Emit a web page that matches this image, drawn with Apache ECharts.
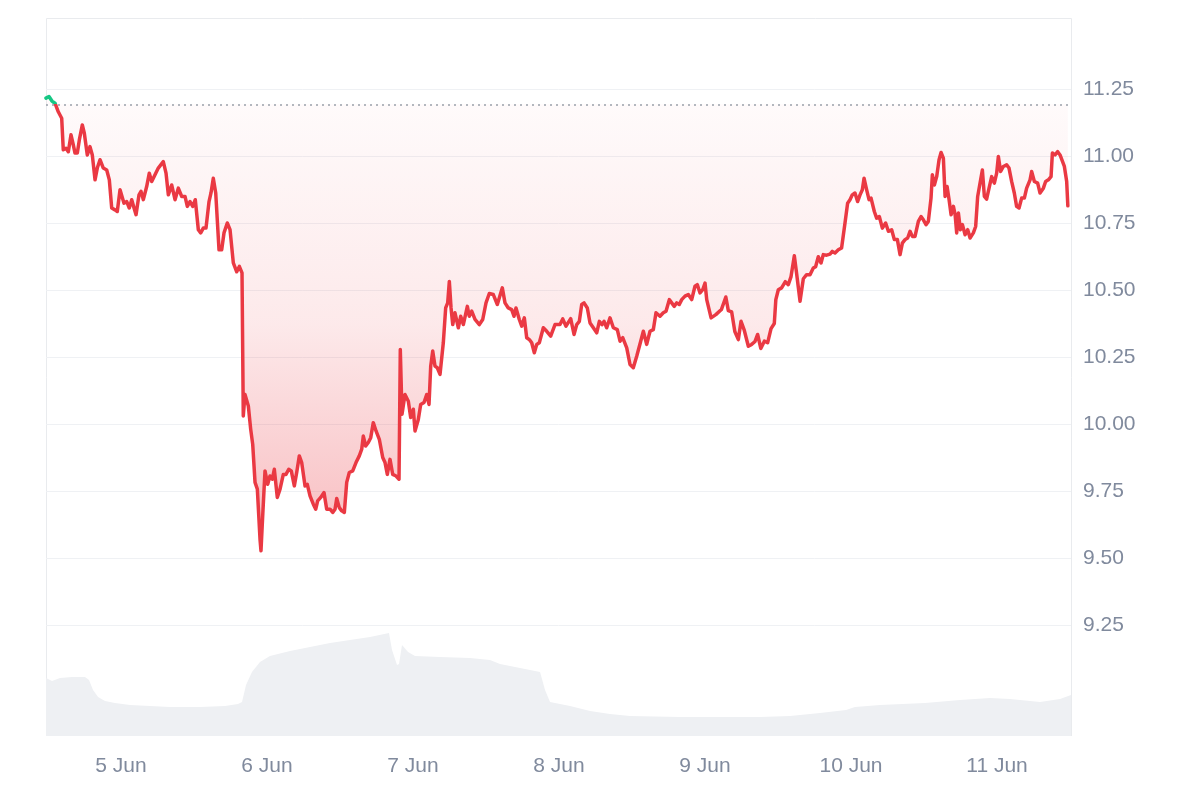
<!DOCTYPE html>
<html><head><meta charset="utf-8">
<script src="https://cdn.jsdelivr.net/npm/echarts@6/dist/echarts.min.js"></script>
<style>html,body{margin:0;padding:0;background:#fff}#c{width:1200px;height:800px}</style>
</head><body><div id="c"></div>
<script>
// hours since 4 Jun 00:00
const priceTimes = [11.67,12.16,12.65,13.15,13.69,14.25,14.51,14.96,15.34,15.78,
16.16,16.44,16.82,17.15,17.64,17.97,18.46,18.90,19.28,19.73,
20.10,20.55,21.09,21.65,22.08,22.47,23.01,23.39,23.84,24.12,
24.49,24.94,25.36,25.76,26.14,26.47,26.96,27.29,27.67,28.22,
28.65,29.05,29.59,30.13,30.95,31.40,31.78,32.33,32.88,33.42,
33.98,34.52,34.90,35.34,35.79,36.21,36.71,37.10,37.53,37.97,
38.47,38.79,39.17,39.57,40.11,40.55,40.93,41.47,41.92,42.46,
43.02,43.45,43.89,44.10,44.38,44.93,45.32,45.65,46.03,46.41,
46.85,47.01,47.29,47.67,48.11,48.49,48.87,49.20,49.69,50.14,
50.68,51.12,51.57,51.99,52.49,52.88,53.31,53.70,54.25,54.62,
55.07,55.61,56.01,56.33,56.83,57.37,57.81,58.36,58.80,59.18,
59.46,59.88,60.28,60.71,61.10,61.53,62.09,62.63,63.17,63.57,
63.83,64.22,64.65,65.05,65.47,65.92,66.46,67.02,67.40,67.78,
68.22,68.66,69.21,69.70,69.91,70.19,70.68,71.23,71.62,72.05,
72.33,72.87,73.26,73.81,74.25,74.63,74.91,75.24,75.61,75.99,
76.44,76.98,77.37,77.70,77.97,78.25,78.53,78.90,79.45,79.84,
80.27,80.93,81.25,81.65,82.19,82.90,83.46,84.00,84.54,85.20,
85.86,86.68,87.12,87.66,88.22,88.60,88.93,89.47,89.87,90.30,
90.69,91.12,91.51,91.94,92.33,92.76,93.42,93.98,94.63,95.34,
96.16,96.61,97.15,97.92,98.47,98.91,99.34,99.73,100.11,100.65,
101.10,101.64,102.20,102.63,103.07,103.40,103.84,104.38,104.93,105.58,
106.03,106.47,107.13,107.67,108.21,108.77,109.43,109.86,110.41,110.96,
111.50,111.94,112.60,113.14,113.59,114.13,114.52,114.95,115.35,115.77,
116.17,116.71,117.25,117.81,118.35,118.73,119.18,119.62,120.00,120.28,
121.00,121.78,122.69,123.42,123.83,124.38,124.90,125.48,125.92,126.46,
127.12,127.66,128.22,128.65,129.17,129.75,130.29,130.85,131.39,131.64,
132.05,132.59,133.20,133.69,134.14,134.68,135.06,135.62,136.16,136.70,
137.26,137.80,138.18,138.62,139.07,139.44,139.99,140.55,140.92,141.37,
141.91,142.45,143.01,143.44,143.83,144.21,144.65,145.08,145.48,145.86,
146.14,146.57,146.96,147.29,147.83,148.21,148.65,149.15,149.69,150.14,
150.68,151.12,151.62,152.06,152.44,152.88,153.31,153.70,154.08,154.52,
155.07,155.51,155.89,156.33,156.71,157.15,157.37,157.70,158.08,158.47,
158.80,159.18,159.46,159.79,160.12,160.45,160.83,161.11,161.37,161.65,
161.98,162.31,162.75,163.18,163.57,164.11,164.49,164.82,165.21,165.59,
165.92,166.29,166.69,167.12,167.56,167.94,168.22,168.59,169.04,169.58,
169.97,170.40,170.84,171.22,171.62,172.05,172.49,172.87,173.43,173.69,
174.14,174.68,175.07,175.62,175.99,176.44,176.88,177.10,177.54,177.97,
178.36,178.62,179.07,179.45,179.64];

const priceValues = [11.216,11.222,11.205,11.197,11.165,11.141,11.023,11.029,11.016,11.079,
11.041,11.011,11.011,11.060,11.116,11.085,11.004,11.035,11.004,10.911,
10.955,10.986,10.955,10.948,10.911,10.806,10.799,10.793,10.874,10.880,
10.824,10.830,10.806,10.837,10.806,10.781,10.855,10.868,10.837,10.886,
10.936,10.905,10.930,10.955,10.979,10.936,10.855,10.892,10.837,10.880,
10.849,10.849,10.812,10.830,10.812,10.837,10.725,10.713,10.731,10.731,
10.830,10.862,10.917,10.862,10.650,10.650,10.713,10.750,10.725,10.601,
10.568,10.588,10.564,10.030,10.110,10.067,9.980,9.924,9.782,9.757,
9.570,9.527,9.657,9.825,9.775,9.806,9.794,9.831,9.726,9.757,
9.812,9.812,9.831,9.825,9.769,9.819,9.881,9.856,9.769,9.775,
9.732,9.701,9.682,9.713,9.726,9.744,9.682,9.682,9.670,9.682,
9.722,9.688,9.676,9.670,9.782,9.819,9.825,9.856,9.881,9.906,
9.955,9.918,9.931,9.949,10.005,9.974,9.943,9.875,9.856,9.812,
9.868,9.812,9.806,9.794,10.278,10.036,10.110,10.085,10.024,10.055,
9.974,10.017,10.073,10.080,10.110,10.073,10.216,10.272,10.216,10.210,
10.185,10.303,10.433,10.452,10.532,10.433,10.371,10.415,10.359,10.402,
10.371,10.439,10.402,10.421,10.390,10.371,10.390,10.452,10.487,10.483,
10.446,10.508,10.452,10.433,10.427,10.402,10.433,10.390,10.365,10.396,
10.322,10.315,10.303,10.266,10.297,10.303,10.359,10.346,10.328,10.371,
10.371,10.392,10.365,10.393,10.334,10.371,10.383,10.446,10.452,10.433,
10.377,10.359,10.340,10.383,10.371,10.383,10.359,10.396,10.359,10.352,
10.309,10.322,10.284,10.222,10.210,10.253,10.309,10.346,10.297,10.346,
10.352,10.415,10.402,10.415,10.421,10.464,10.452,10.439,10.452,10.446,
10.464,10.477,10.483,10.464,10.514,10.520,10.489,10.501,10.526,10.464,
10.396,10.408,10.427,10.474,10.423,10.418,10.345,10.315,10.383,10.349,
10.290,10.297,10.308,10.334,10.282,10.309,10.303,10.356,10.375,10.464,
10.501,10.508,10.531,10.520,10.550,10.628,10.561,10.458,10.542,10.557,
10.557,10.582,10.587,10.624,10.601,10.632,10.630,10.634,10.644,10.638,
10.650,10.657,10.750,10.824,10.837,10.855,10.862,10.830,10.855,10.874,
10.917,10.874,10.837,10.843,10.793,10.768,10.774,10.731,10.750,10.719,
10.725,10.688,10.688,10.632,10.675,10.688,10.694,10.719,10.700,10.700,
10.756,10.774,10.762,10.744,10.756,10.843,10.930,10.892,10.923,10.986,
11.013,10.992,10.849,10.886,10.837,10.781,10.812,10.781,10.713,10.787,
10.725,10.744,10.706,10.725,10.694,10.713,10.737,10.849,10.899,10.948,
10.849,10.839,10.880,10.923,10.899,10.936,10.998,10.942,10.961,10.967,
10.955,10.905,10.862,10.812,10.806,10.843,10.843,10.880,10.911,10.942,
10.905,10.899,10.862,10.880,10.905,10.911,10.923,11.011,11.004,11.016,
11.004,11.011,10.961,10.905,10.814];

const volumeTimes = [11.67,12.66,13.97,15.95,18.08,18.74,19.40,20.22,21.37,23.01,
25.48,28.77,32.05,36.99,41.10,43.23,43.89,44.55,45.53,46.85,
48.49,51.78,55.07,58.36,61.64,64.93,68.05,68.55,69.37,69.70,
70.19,71.18,72.33,76.44,81.37,84.66,86.30,89.59,92.88,93.70,
94.52,97.81,101.10,104.38,107.67,115.89,122.46,129.04,133.97,138.90,
143.18,144.65,148.76,156.16,161.91,166.85,170.13,175.07,178.36,180.16];
const volumeValues = [58,55,58,59,59,56,46,39,35,33,
31,30,29,29,30,32,34,51,64,74,
80,85,89,93,96,99,103,86,71,72,
91,84,80,79,78,76,72,68,64,46,
34,30,25,22,20,19,19,19,20,23,
26,29,31,33,36,38,37,34,37,41];

const baselinePrice = 11.193;
const priceTicks = [9.25, 9.50, 9.75, 10.00, 10.25, 10.50, 10.75, 11.00, 11.25];
const dayTicks = [24, 48, 72, 96, 120, 144, 168];
const dayLabels = ['5 Jun', '6 Jun', '7 Jun', '8 Jun', '9 Jun', '10 Jun', '11 Jun'];
const startHour = 11.67, endHour = 180.16;

const priceData = priceTimes.map((t, i) => [t, priceValues[i]]);
const volumeData = volumeTimes.map((t, i) => [t, volumeValues[i]]);

const L = 46, W = 1025, FRAME_TOP = 18, BOTTOM = 736;
const FONT = "'Liberation Sans', Arial, sans-serif";
const chart = echarts.init(document.getElementById('c'), null, {renderer: 'canvas'});
chart.setOption({
  animation: false,
  backgroundColor: '#ffffff',
  grid: [
    {left: L, width: W, top: 89, height: 536},
    {left: L, width: W, top: 600, height: BOTTOM - 600}
  ],
  xAxis: [
    {gridIndex: 0, type: 'value', min: startHour, max: endHour, show: false},
    {gridIndex: 1, type: 'value', min: startHour, max: endHour,
     axisLine: {show: false}, axisTick: {show: false}, splitLine: {show: false},
     axisLabel: {customValues: dayTicks, margin: 20, fontSize: 21, color: '#808a9d', fontFamily: FONT,
       formatter: v => dayLabels[dayTicks.indexOf(v)] || ''}}
  ],
  yAxis: [
    {gridIndex: 0, type: 'value', position: 'right', min: priceTicks[0], max: priceTicks[priceTicks.length - 1], interval: 0.25,
     axisLine: {show: false}, axisTick: {show: false},
     splitLine: {lineStyle: {color: '#eff1f4', width: 1}},
     axisLabel: {margin: 12, fontSize: 21, color: '#808a9d', fontFamily: FONT, formatter: v => v.toFixed(2)}},
    {gridIndex: 1, type: 'value', min: 0, max: BOTTOM - 600, show: false}
  ],
  visualMap: {
    type: 'piecewise', show: false, seriesIndex: 1, dimension: 1,
    pieces: [{min: 0, max: baselinePrice, color: '#ea3943'}, {min: baselinePrice, max: 100, color: '#16c784'}]
  },
  series: [
    {type: 'line', xAxisIndex: 1, yAxisIndex: 1, data: volumeData, symbol: 'none',
     lineStyle: {width: 0}, itemStyle: {color: '#eef0f3'},
     areaStyle: {color: '#eef0f3', opacity: 1, origin: 'start'}, silent: true, z: 1},
    {type: 'line', xAxisIndex: 0, yAxisIndex: 0, data: priceData, symbol: 'none',
     lineStyle: {width: 3.5, join: 'round', cap: 'round'},
     areaStyle: {origin: baselinePrice, opacity: 1,
       color: new echarts.graphic.LinearGradient(0, 0, 0, 1, [
         {offset: 0, color: 'rgba(234,57,67,0.02)'},
         {offset: 0.5, color: 'rgba(234,57,67,0.11)'},
         {offset: 1, color: 'rgba(234,57,67,0.34)'}])},
     markLine: {silent: true, symbol: ['none', 'none'], label: {show: false},
       lineStyle: {type: [2, 4], color: '#9aa1ab', width: 1.5},
       data: [{yAxis: baselinePrice}]},
     z: 3}
  ],
  graphic: [{
    type: 'polyline', silent: true, z: 0,
    shape: {points: [[L + 0.5, BOTTOM], [L + 0.5, FRAME_TOP + 0.5], [L + W + 0.5, FRAME_TOP + 0.5], [L + W + 0.5, BOTTOM]]},
    style: {stroke: '#e9ebee', lineWidth: 1, fill: null}
  }]
});
</script></body></html>
